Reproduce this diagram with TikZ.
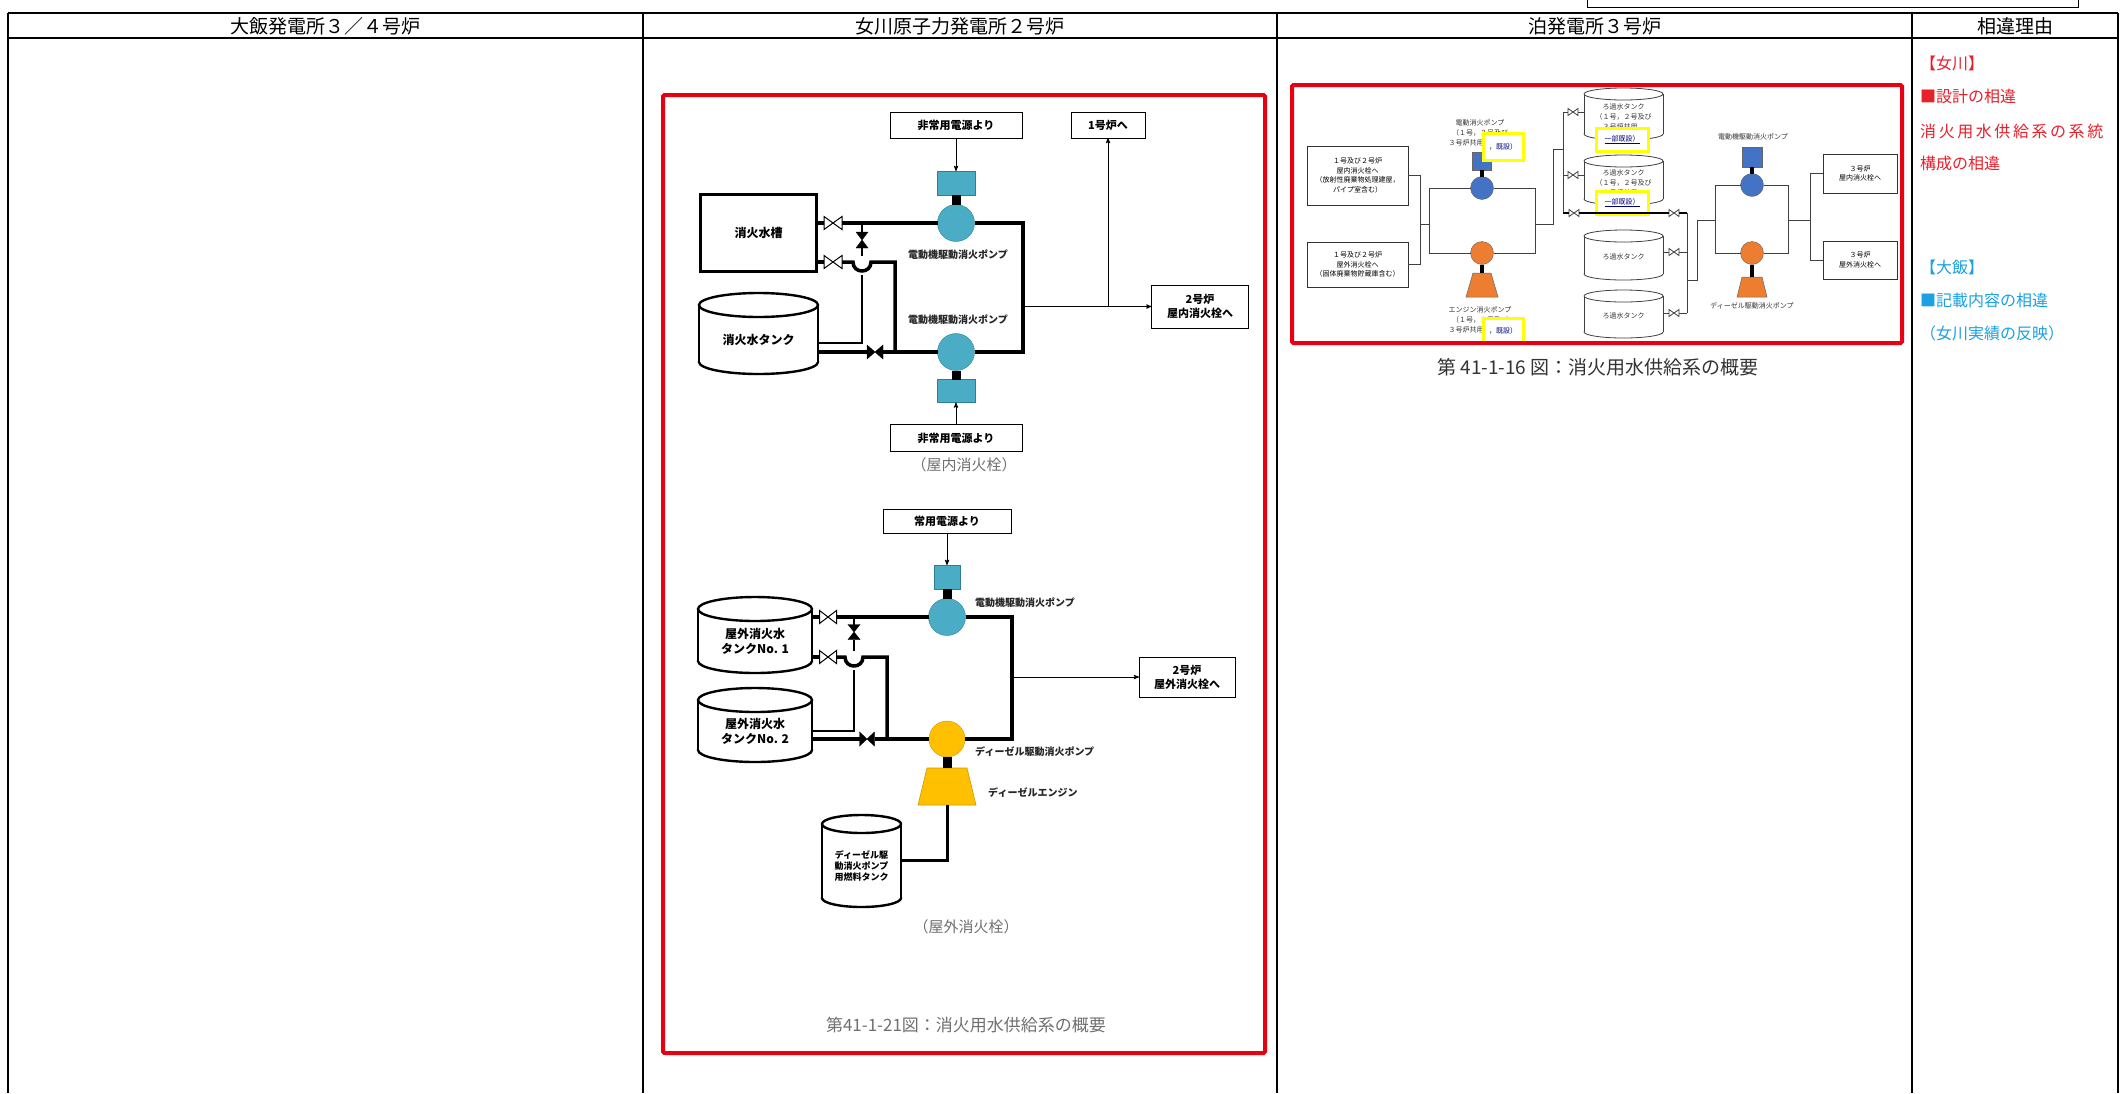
\documentclass[tikz,border=0pt]{standalone}
\usepackage{fontspec}
\setmainfont{Noto Sans CJK JP}
\usetikzlibrary{calc}
\usetikzlibrary{arrows}
\usepackage{xcolor}
\definecolor{pumpblue}{HTML}{4BACC6}
\definecolor{pumpedge}{HTML}{2E7F95}
\definecolor{dieselyel}{HTML}{FFC000}
\definecolor{tomariblue}{HTML}{4472C4}
\definecolor{tomariorg}{HTML}{ED7D31}
\definecolor{markred}{HTML}{E60012}
\definecolor{reasonred}{HTML}{E8202A}
\definecolor{reasonblue}{HTML}{1BA1E2}
\definecolor{capgrey}{HTML}{707070}
\definecolor{hilite}{HTML}{FFFF00}
\newcommand{\fsz}[2]{\fontsize{#1}{#2}\selectfont}
\newcommand{\tank}[7]{%
\draw[fill=white] (#2,#4-#6) ellipse ({#5} and {#6});
\fill[white] (#2-#5,#3+#6) rectangle (#2+#5,#4-#6);
\draw (#2-#5,#3+#6) -- (#2-#5,#4-#6) (#2+#5,#3+#6) -- (#2+#5,#4-#6);
\draw[fill=white] (#2,#3+#6) ellipse ({#5} and {#6});
\node[inner sep=0, outer sep=0, minimum width=2*#5, minimum height=#4-#3, align=center] (#1) at (#2,{(#3+#4+#6)/2}) {#7};}
\newcommand{\hvalve}[6]{%
\node[inner sep=0, outer sep=0, minimum width=#4, minimum height=#5] (#1) at (#2,#3) {};
\draw[#6] (#1.north west) -- (#1.south east) -- (#1.north east) -- (#1.south west) -- cycle;}
\newcommand{\vvalve}[6]{%
\node[inner sep=0, outer sep=0, minimum width=#4, minimum height=#5] (#1) at (#2,#3) {};
\draw[#6] (#1.north west) -- (#1.north east) -- (#1.south west) -- (#1.south east) -- cycle;}

\begin{document}
\begin{tikzpicture}[x=1pt,y=-1pt,>=stealth',
  pipe/.style={line width=3.5pt},
  branch/.style={line width=2.6pt},
  fine/.style={line width=0.8pt, draw=black!75},
  flow/.style={line width=0.9pt, ->},
  sbox/.style={draw, line width=1pt, fill=white, inner sep=0, outer sep=0, align=center, font=\fsz{11}{14}\bfseries},
  tbox/.style={draw=black!80, line width=0.9pt, fill=white, inner sep=0, outer sep=0, align=center, font=\fsz{7}{9.5}},
  lbl/.style={inner sep=0, font=\fsz{10}{12}\bfseries, text=black!85},
  tlbl/.style={inner sep=0, align=center, font=\fsz{7}{10}, text=black!80},
  note/.style={inner sep=0, font=\fsz{15}{18}, text=capgrey},
  head/.style={inner sep=0, font=\fsz{19}{21}},
  why/.style={inner sep=0, anchor=west, font=\fsz{16}{19}},
  redframe/.style={draw=markred, line width=4pt, rounded corners=1.5pt},
  hibox/.style={draw=hilite, line width=3pt, fill=white, inner sep=0, font=\fsz{7}{9}, text=blue!50!black},
  motor/.style={draw=pumpedge, fill=pumpblue, inner sep=0, outer sep=0},
  pumpa/.style={circle, draw=pumpedge, fill=pumpblue, minimum size=37, inner sep=0, outer sep=0},
  pumpd/.style={circle, draw=dieselyel!80!black, fill=dieselyel, minimum size=36, inner sep=0, outer sep=0},
  tpump/.style={circle, draw=black!60, minimum size=23, inner sep=0, outer sep=0}]
\useasboundingbox (0,0) rectangle (2123,1093);
\fill[white] (0,0) rectangle (2123,1093);

\draw[line width=1pt] (1587,0) |- (2078,7) -- (2078,0);
\draw[line width=1.3pt] (8,13) -- (2118,13) (8,38) -- (2118,38);
\foreach \x in {8,643,1277,1912,2118} \draw[line width=1.3pt] (\x,13) -- (\x,1093);
\node[head] (h1) at (325.5,26) {大飯発電所３／４号炉};
\node[head] (h2) at (960,26) {女川原子力発電所２号炉};
\node[head] (h3) at (1594.5,26) {泊発電所３号炉};
\node[head] (h4) at (2015,26) {相違理由};

\node[why, text=reasonred] (r1) at (1920,63) {【女川】};
\node[why, text=reasonred] (r2) at (1920,96) {■設計の相違};
\node[why, text=reasonred] (r3) at (1920,131) {\addfontfeatures{LetterSpace=16}消火用水供給系の系統};
\node[why, text=reasonred] (r4) at (1920,163) {構成の相違};
\node[why, text=reasonblue] (r5) at (1920,267) {【大飯】};
\node[why, text=reasonblue] (r6) at (1920,300) {■記載内容の相違};
\node[why, text=reasonblue] (r7) at (1920,333) {（女川実績の反映）};

\node[sbox, minimum width=132, minimum height=26] (pwU) at (956,125) {非常用電源より};
\node[sbox, minimum width=74, minimum height=26] (to1) at (1108,125) {1号炉へ};
\node[motor, minimum width=38, minimum height=24] (mtU) at (956,183) {};
\node[pumpa] (pmpU) at (956,223) {};
\node[lbl] (lbU) at (958,255) {電動機駆動消火ポンプ};
\node[lbl] (lbL) at (958,320) {電動機駆動消火ポンプ};
\node[pumpa] (pmpL) at (956,352) {};
\node[motor, minimum width=38, minimum height=23] (mtL) at (956,391) {};
\node[sbox, minimum width=132, minimum height=27] (pwL) at (956,438) {非常用電源より};
\node[sbox, minimum width=97, minimum height=43] (in2) at (1200,306.5) {2号炉\\屋内消火栓へ};
\node[draw, line width=3.5pt, inner sep=0, outer sep=0, minimum width=116, minimum height=77, font=\fsz{12}{14}\bfseries] (tkA) at (758.5,233) {消火水槽};
\begin{scope}[line width=2.4pt, every node/.append style={font=\fsz{12}{15}\bfseries}]
\tank{tkB}{758.5}{293}{374}{59.5}{12}{消火水タンク}
\end{scope}
\hvalve{v1}{833}{223}{18}{13}{line width=1pt, fill=white}
\hvalve{v2}{833}{262}{18}{13}{line width=1pt, fill=white}
\vvalve{v3}{862}{240}{12}{16}{fill=black}
\hvalve{v4}{875}{352}{16}{14}{fill=black}
\coordinate (cR) at (1023,288);
\coordinate (cO) at (1023,306.5);
\coordinate (cB) at (1108,306.5);
\coordinate (hU) at (862,262);
\coordinate (dU) at (895,352);
\coordinate (kU) at (862,343);
\draw[pipe] (tkA.east |- v1) -- (v1.west) (v1.east) -- (pmpU.west);
\draw[pipe] (pmpU.east) -| (cR) |- (pmpL.east);
\draw[pipe] (tkA.east |- v2) -- (v2.west);
\draw[pipe] (v2.east) -- ($(hU)+(-9,0)$) .. controls ($(hU)+(-9,12)$) and ($(hU)+(9,12)$) .. ($(hU)+(9,0)$) -| (dU);
\draw[branch] (v1.east -| v3) -- (v3.north);
\draw[branch] (v3.south) -- ($(hU)+(0,-6)$);
\draw[branch] ($(hU)+(0,13)$) -- (kU) -- (tkB.east |- kU);
\draw[pipe] (tkB.east |- v4) -- (v4.west) (v4.east) -- (pmpL.west);
\draw[line width=9pt] (mtU.south) -- (pmpU.north);
\draw[line width=9pt] (mtL.north) -- (pmpL.south);
\draw[flow] (pwU) -- (mtU);
\draw[flow] (pwL) -- (mtL);
\draw[flow] (cO) -- (in2);
\draw[flow] (cB) -- (to1);
\node[note] (nIn) at (964,465) {（屋内消火栓）};

\node[sbox, minimum width=128, minimum height=24] (pwO) at (947,521) {常用電源より};
\node[motor, minimum width=26, minimum height=24] (mtO) at (947,577) {};
\node[pumpa] (pmpO) at (947,617) {};
\node[lbl, anchor=west] (lbO) at (975,603) {電動機駆動消火ポンプ};
\begin{scope}[line width=2.4pt, every node/.append style={font=\fsz{12}{15}\bfseries}]
\tank{tkC}{755}{597}{673}{57}{12}{屋外消火水\\タンクNo. 1}
\tank{tkD}{755}{688}{762}{57}{12}{屋外消火水\\タンクNo. 2}
\end{scope}
\hvalve{v5}{828}{617}{17}{13}{line width=1pt, fill=white}
\hvalve{v6}{828}{657}{17}{13}{line width=1pt, fill=white}
\vvalve{v7}{854}{632}{12}{15}{fill=black}
\hvalve{v8}{867}{739}{15}{14}{fill=black}
\node[pumpd] (pmpD) at (947,739) {};
\node[sbox, minimum width=96, minimum height=40] (out2) at (1187,677) {2号炉\\屋外消火栓へ};
\coordinate (cR2) at (1012,677);
\coordinate (hO) at (854,657);
\coordinate (dO) at (887,739);
\coordinate (kO) at (854,731);
\draw[pipe] (tkC.east |- v5) -- (v5.west) (v5.east) -- (pmpO.west);
\draw[pipe] (pmpO.east) -| (cR2) |- (pmpD.east);
\draw[pipe] (tkC.east |- v6) -- (v6.west);
\draw[pipe] (v6.east) -- ($(hO)+(-9,0)$) .. controls ($(hO)+(-9,12)$) and ($(hO)+(9,12)$) .. ($(hO)+(9,0)$) -| (dO);
\draw[branch] (v5.east -| v7) -- (v7.north);
\draw[branch] (v7.south) -- ($(hO)+(0,-6)$);
\draw[branch] ($(hO)+(0,13)$) -- (kO) -- (tkD.east |- kO);
\draw[pipe] (tkD.east |- v8) -- (v8.west) (v8.east) -- (pmpD.west);
\draw[line width=9pt] (mtO.south) -- (pmpO.north);
\draw[flow] (pwO) -- (mtO);
\draw[flow] (cR2) -- (out2);
\node[lbl, anchor=west] (lbD) at (975,752) {ディーゼル駆動消火ポンプ};
\node[inner sep=0, outer sep=0, minimum width=58, minimum height=37] (engD) at (947,786.5) {};
\draw[fill=dieselyel, draw=dieselyel!80!black, line width=0.6pt] (engD.south west) -- (engD.south east) -- ([xshift=-9]engD.north east) -- ([xshift=9]engD.north west) -- cycle;
\draw[line width=9pt] (pmpD.south) -- (engD.north);
\node[lbl, anchor=west] (lbE) at (988,793) {ディーゼルエンジン};
\begin{scope}[line width=2.4pt, every node/.append style={font=\fsz{9}{11}\bfseries}]
\tank{tkF}{861.5}{815}{907}{39.5}{9}{ディーゼル駆\\動消火ポンプ\\用燃料タンク}
\end{scope}
\coordinate (kF) at (947,860);
\draw[line width=3pt] (engD.south) -- (kF) -- (tkF.east |- kF);
\node[note] (nOut) at (966,927) {（屋外消火栓）};
\node[note, font=\fsz{17}{20}] (capO) at (966,1025) {第41-1-21図：消火用水供給系の概要};
\draw[redframe] (663,95) rectangle (1265,1053);

\node[tbox, minimum width=101, minimum height=59] (bxA) at (1357.5,175.5) {１号及び２号炉\\屋内消火栓へ\\（放射性廃棄物処理建屋，\\パイプ室含む）};
\node[tbox, minimum width=101, minimum height=45] (bxB) at (1357.5,264.5) {１号及び２号炉\\屋外消火栓へ\\（固体廃棄物貯蔵庫含む）};
\node[tpump, fill=tomariblue] (epA) at (1482,188) {};
\node[tpump, fill=tomariorg] (egA) at (1482,253) {};
\node[draw=black!60, fill=tomariblue, inner sep=0, outer sep=0, minimum width=19, minimum height=18] (mA) at (1482,161) {};
\node[inner sep=0, outer sep=0, minimum width=32, minimum height=24] (engA) at (1482,285) {};
\draw[fill=tomariorg, draw=black!60, line width=0.5pt] (engA.south west) -- (engA.south east) -- ([xshift=-7]engA.north east) -- ([xshift=7]engA.north west) -- cycle;
\draw[line width=4pt] (mA.south) -- (epA.north);
\draw[line width=4pt] (egA.south) -- (engA.north);
\coordinate (jA) at (1420,224);
\coordinate (jL1) at (1429,224);
\coordinate (jR1) at (1535,224);
\coordinate (jU1) at (1553,149);
\coordinate (tT) at (1563,112);
\coordinate (tB) at (1563,213);
\draw[fine] (bxA.east) -| (jA) |- (bxB.east);
\draw[fine] (jA) -- (jL1);
\draw[fine] (epA.west) -| (jL1) |- (egA.west);
\draw[fine] (epA.east) -| (jR1) |- (egA.east);
\draw[fine] (jR1) -| (jU1) -- (jU1 -| tT);
\draw[fine] (tT) -- (tB);
\node[tlbl] (lA) at (1480,133) {電動消火ポンプ\\（１号，２号及び\\３号炉共用\phantom{，既設）}};
\node[hibox, minimum width=40, minimum height=27] (yA) at (1503,146.5) {，既設）};
\node[tlbl] (lB) at (1480,320) {エンジン消火ポンプ\\（１号，２号及び\\３号炉共用\phantom{，既設）}};
\node[hibox, minimum width=40, minimum height=25] (yB) at (1503,331) {，既設）};

\begin{scope}[line width=0.8pt, draw=black!75]
\tank{tk1}{1623.5}{88}{140}{39.5}{6}{}
\tank{tk2}{1623.5}{155}{205}{39.5}{6}{}
\tank{tk3}{1623.5}{230}{280}{39.5}{6}{}
\tank{tk4}{1623.5}{290}{338}{39.5}{6}{}
\end{scope}
\node[tlbl] (l1) at (1623.5,117) {ろ過水タンク\\（１号，２号及び\\３号炉共用，};
\node[tlbl] (l2) at (1623.5,183) {ろ過水タンク\\（１号，２号及び\\３号炉共用，};
\node[tlbl] (l3) at (1623.5,257) {ろ過水タンク};
\node[tlbl] (l4) at (1623.5,316) {ろ過水タンク};
\node[hibox, minimum width=52, minimum height=23] (y1) at (1622,139.5) {\underline{一部既設）}};
\node[hibox, minimum width=52, minimum height=23] (y2) at (1622,202.5) {\underline{一部既設）}};
\hvalve{va1}{1573}{112}{10}{7}{fine, fill=white}
\hvalve{va2}{1573}{175}{10}{7}{fine, fill=white}
\hvalve{va3}{1574}{213}{10}{7}{fine, fill=white}
\hvalve{vb0}{1674}{213}{10}{7}{fine, fill=white}
\hvalve{vb3}{1674}{252}{10}{7}{fine, fill=white}
\hvalve{vb4}{1674}{313}{10}{7}{fine, fill=white}
\coordinate (tR1) at (1687,213);
\coordinate (tR2) at (1687,313);
\coordinate (jP) at (1687,280);
\coordinate (jQ) at (1697,220);
\coordinate (jL2) at (1715,220);
\coordinate (jR2) at (1788,220);
\coordinate (jS) at (1810,220);
\draw[fine] (tT) -- (va1.west) (va1.east) -- (tk1.west |- va1);
\draw[fine] (tT |- va2) -- (va2.west) (va2.east) -- (tk2.west |- va2);
\draw[line width=1.6pt] (tB) -- (va3.west) (va3.east) -- (vb0.west) (vb0.east) -- (tR1);
\draw[fine] (tk3.east |- vb3) -- (vb3.west) (vb3.east) -- (tR1 |- vb3);
\draw[fine] (tk4.east |- vb4) -- (vb4.west) (vb4.east) -- (tR2);
\draw[fine] (tR1) -- (tR2);
\draw[fine] (jP) -| (jQ) -- (jL2);
\node[tpump, fill=tomariblue] (epB) at (1752,185) {};
\node[tpump, fill=tomariorg] (egB) at (1752,253) {};
\node[draw=black!60, fill=tomariblue, inner sep=0, outer sep=0, minimum width=20, minimum height=20] (mB) at (1752,157) {};
\node[inner sep=0, outer sep=0, minimum width=30, minimum height=20] (engB) at (1752,287) {};
\draw[fill=tomariorg, draw=black!60, line width=0.5pt] (engB.south west) -- (engB.south east) -- ([xshift=-5]engB.north east) -- ([xshift=5]engB.north west) -- cycle;
\draw[line width=4pt] (mB.south) -- (epB.north);
\draw[line width=4pt] (egB.south) -- (engB.north);
\draw[fine] (epB.west) -| (jL2) |- (egB.west);
\draw[fine] (epB.east) -| (jR2) |- (egB.east);
\node[tlbl] (lC) at (1753,137) {電動機駆動消火ポンプ};
\node[tlbl] (lD) at (1752,306) {ディーゼル駆動消火ポンプ};
\node[tbox, minimum width=74, minimum height=39] (bxC) at (1860,173.5) {３号炉\\屋内消火栓へ};
\node[tbox, minimum width=74, minimum height=38] (bxD) at (1860,260) {３号炉\\屋外消火栓へ};
\draw[fine] (jR2) -- (jS);
\draw[fine] (bxC.west) -| (jS) |- (bxD.west);
\draw[redframe] (1292,85) rectangle (1902,343);
\node[inner sep=0, font=\fsz{19}{21}, text=black!80] (capT) at (1598,367) {第 41-1-16 図：消火用水供給系の概要};
\end{tikzpicture}
\end{document}
